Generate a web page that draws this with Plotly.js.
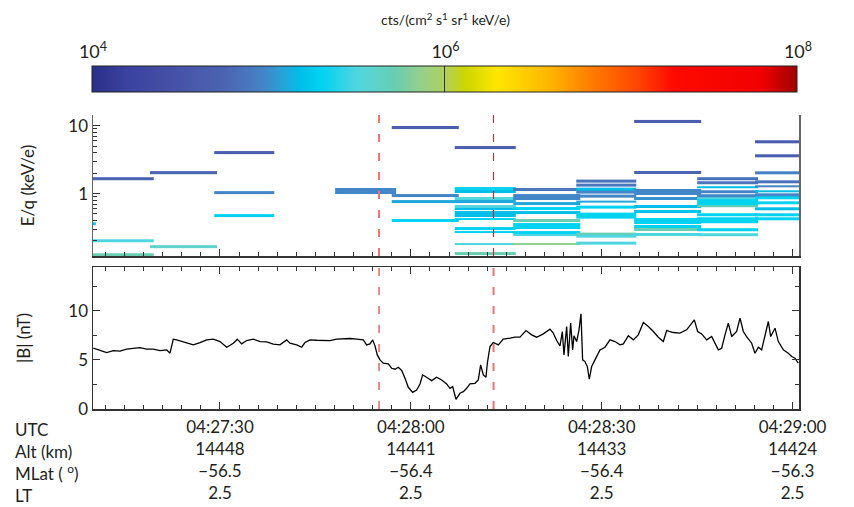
<!DOCTYPE html>
<html>
<head>
<meta charset="utf-8">
<script src="https://cdn.plot.ly/plotly-3.0.1.min.js"></script>
<style>html,body{margin:0;padding:0;background:#fff;}#chart{width:854px;height:507px;}</style>
</head>
<body>
<div id="chart"></div>
<script>
// ---------------- DATA ----------------
// Time is seconds after 04:27:00 UTC
// Spectrogram time bins (start, end) in seconds
var binStart = [0.9, 10.0, 19.0, 29.1, 48.1, 57.0, 66.9, 76.1, 86.0, 95.1, 105.0, 114.1];
var binEnd   = [10.45, 19.6, 29.5, 38.6, 57.7, 67.6, 76.5, 86.6, 95.5, 105.6, 114.6, 123.6];
// Energy (keV/e) of each channel with counts, per bin
var binEnergy = [
  [0.36],
  [1.66, 0.202, 0.127],
  [2.04, 0.165],
  [4.03, 1.03, 0.473],
  [1.15, 1.03],
  [9.44, 0.934, 0.762, 0.399],
  [4.78, 1.19, 1.06, 0.85, 0.76, 0.65, 0.59, 0.53, 0.47, 0.42, 0.305, 0.27, 0.18, 0.13],
  [1.15, 0.934, 0.853, 0.719, 0.60, 0.529, 0.398, 0.348, 0.318, 0.268, 0.245, 0.18],
  [1.53, 1.32, 1.15, 1.04, 0.92, 0.76, 0.64, 0.50, 0.45, 0.255, 0.235, 0.185],
  [11.6, 2.03, 1.12, 1.0, 0.84, 0.655, 0.545, 0.42, 0.37, 0.33, 0.295, 0.248],
  [1.66, 1.45, 1.24, 1.05, 0.92, 0.86, 0.78, 0.70, 0.65, 0.49, 0.43, 0.385, 0.29, 0.245],
  [5.82, 3.62, 2.04, 1.5, 1.28, 1.08, 0.97, 0.86, 0.73, 0.59, 0.49, 0.43]
];
// log10 of differential flux, cts/(cm2 s sr keV/e), per channel
var binLogFlux = [
  [5.3],
  [4.75, 5.5, 5.72],
  [4.75, 5.6],
  [4.65, 4.98, 5.3],
  [4.98, 4.98],
  [4.65, 4.98, 5.1, 5.3],
  [4.65, 5.3, 5.18, 5.5, 5.1, 5.5, 5.18, 5.18, 5.18, 5.3, 5.3, 5.3, 5.5, 5.72],
  [4.88, 4.98, 4.98, 5.1, 5.3, 5.18, 5.72, 5.3, 5.3, 5.3, 5.5, 5.85],
  [4.85, 4.88, 5.18, 4.98, 4.98, 5.1, 5.3, 5.3, 5.3, 5.72, 5.5, 5.5],
  [4.65, 4.75, 4.98, 4.98, 5.02, 5.18, 5.22, 5.3, 5.3, 5.3, 5.72, 5.5],
  [4.85, 4.88, 5.18, 4.98, 4.98, 5.5, 5.3, 5.3, 5.72, 5.3, 5.3, 5.3, 5.3, 5.5],
  [4.65, 4.65, 4.95, 4.85, 4.95, 5.18, 4.98, 5.3, 5.3, 5.18, 5.3, 5.3]
];

// Magnetic field magnitude
var bTime = [10.09,11.14,12.19,13.23,14.28,15.33,16.38,17.42,18.47,19.52,20.57,21.62,22.14,22.66,23.19,23.97,24.76,25.81,26.86,27.90,28.95,30.00,31.05,32.10,32.72,33.41,34.19,35.24,36.29,37.34,38.38,39.43,40.48,41.00,42.05,42.84,43.36,44.15,45.20,46.24,47.29,48.34,49.39,50.43,51.48,52.53,53.05,53.58,54.00,54.36,54.73,55.15,55.67,56.46,56.98,57.51,58.03,58.56,59.08,59.60,60.28,60.91,61.44,61.85,62.48,63.27,64.05,64.84,65.63,66.15,66.57,67.09,67.72,68.25,68.77,69.29,70.08,70.60,70.97,71.39,71.81,72.02,72.44,72.96,73.75,74.53,75.58,76.37,77.15,78.10,78.99,79.77,80.82,81.87,82.39,82.92,83.44,83.81,84.07,84.49,84.75,85.12,85.43,85.64,86.06,86.43,86.74,87.00,87.37,87.74,88.05,88.42,88.94,89.73,90.51,91.30,92.09,92.87,93.40,94.18,94.97,95.75,96.54,97.33,98.11,98.90,99.68,100.21,101.26,102.30,103.35,104.14,104.56,105.08,105.71,106.50,107.28,108.33,108.85,109.38,109.90,110.43,111.21,111.74,112.26,112.78,113.57,114.09,114.62,115.14,115.67,116.19,116.56,117.24,117.76,118.55,119.33,119.86,120.38,120.90];
var bMag = [6.19,5.95,5.75,5.95,5.90,6.09,6.15,6.25,6.09,6.09,5.95,6.02,5.68,7.11,7.04,6.87,6.77,6.53,6.77,7.04,7.11,6.87,6.29,6.70,7.11,6.63,6.97,7.11,6.87,6.84,6.60,6.53,7.04,6.70,6.53,6.29,6.77,7.04,7.00,6.97,6.97,7.11,7.14,7.18,7.11,7.04,6.53,6.63,7.04,6.43,5.51,5.00,4.66,4.59,4.15,4.05,4.25,3.92,3.13,2.21,1.70,1.94,2.55,3.47,3.23,2.89,3.23,2.96,2.55,2.11,2.28,0.99,1.60,1.77,2.11,2.55,2.62,2.96,4.49,3.47,3.23,4.66,6.36,6.77,6.53,7.11,7.21,7.31,7.31,7.99,7.55,7.31,7.65,8.13,7.72,6.97,6.43,7.89,5.51,8.40,5.34,8.74,6.02,7.45,6.87,8.06,9.70,5.00,4.83,4.32,3.03,4.32,5.00,6.02,6.29,7.04,6.87,6.53,6.63,7.45,7.04,7.55,8.81,8.40,7.89,7.31,6.87,7.99,7.79,7.72,8.06,8.74,9.08,7.89,7.65,7.04,7.38,6.02,6.19,7.55,8.74,7.38,7.89,9.25,7.89,7.38,6.70,5.68,6.29,6.02,7.38,8.91,7.38,8.23,6.87,6.02,5.68,5.34,5.17,4.66];

// Boundary times (dashed lines)
var boundaryTimes = [55.0, 73.0];

// Bottom annotation table
var tickTimes = [30, 60, 90, 120];
var utcLabels = ['04:27:30', '04:28:00', '04:28:30', '04:29:00'];
var altLabels = ['14448', '14441', '14433', '14424'];
var mlatLabels = ['\u221256.5', '\u221256.4', '\u221256.4', '\u221256.3'];
var ltLabels = ['2.5', '2.5', '2.5', '2.5'];
var rowNames = ['UTC', 'Alt (km)', 'MLat ( <sup>o</sup>)', 'LT'];

var cbTickVals = [4, 6, 8];
var cbTickText = ['10<sup>4</sup>', '10<sup>6</sup>', '10<sup>8</sup>'];

// ---------------- BUILD ----------------
var FONT = 'Lato, "Open Sans", "DejaVu Sans", sans-serif';
var TXT = '#231f20';
var halfThick = 0.021; // half bar thickness in decades

var colorscale = [
  [0.0, '#2a3088'], [0.05, '#3a42a0'], [0.1125, '#4550a6'], [0.15, '#4a5aac'],
  [0.1875, '#4a64b2'], [0.22, '#4a76be'], [0.245, '#4286c8'], [0.275, '#20a8dc'],
  [0.295, '#00bee8'], [0.325, '#00d2f2'], [0.375, '#4ed6e0'], [0.40, '#5cd4cc'],
  [0.43, '#68ceb0'], [0.4625, '#90d090'], [0.50, '#b0d060'], [0.53, '#ccd600'],
  [0.575, '#ffe600'], [0.65, '#ffb400'], [0.7125, '#ff7800'], [0.775, '#ff4400'],
  [0.825, '#ff0a00'], [0.95, '#f00000'], [1.0, '#a00000']
];

var traces = [];
for (var i = 0; i < binStart.length; i++) {
  var ch = binEnergy[i].map(function (e, k) { return {e: e, f: binLogFlux[i][k]}; });
  ch.sort(function (a, b) { return a.e - b.e; });
  var edges = [], z = [], prevHi = null, prevE = null;
  var fac = Math.pow(10, halfThick);
  ch.forEach(function (c) {
    var lo = c.e / fac, hi = c.e * fac;
    if (prevHi === null) { edges.push(lo); }
    else if (lo > prevHi) { z.push([null]); edges.push(lo); }
    else { edges[edges.length - 1] = Math.sqrt(prevE * c.e); }
    z.push([c.f]); edges.push(hi); prevHi = hi; prevE = c.e;
  });
  traces.push({
    type: 'heatmap', x: [binStart[i], binEnd[i]], y: edges, z: z,
    coloraxis: 'coloraxis', xaxis: 'x', yaxis: 'y', hoverinfo: 'skip', zsmooth: false
  });
}
traces.push({
  type: 'scatter', mode: 'lines', x: bTime, y: bMag, xaxis: 'x2', yaxis: 'y2',
  line: {color: '#000', width: 1.3}, hoverinfo: 'skip'
});
// carrier for the colour-bar label axis (draws nothing)
traces.push({
  type: 'scatter', mode: 'none', x: [cbTickVals[0], cbTickVals[cbTickVals.length - 1]], y: [0.5, 0.5],
  xaxis: 'x3', yaxis: 'y3', hoverinfo: 'skip'
});

var tickText = tickTimes.map(function (t, k) {
  return utcLabels[k] + '<br>' + altLabels[k] + '<br>' + mlatLabels[k] + '<br>' + ltLabels[k];
});

function py(px) { return (409 - px) / 343; }
var xr = [10.04, 121.01];
var axLine = '#333';

var shapes = [];
var dashStyles = [
  {ref: 'y domain', xref: 'x', color: '#f27272', width: 2},
  {ref: 'y domain', xref: 'x', color: '#e01818', width: 1},
  {ref: 'y2 domain', xref: 'x2', color: '#e01818', width: 1},
  {ref: 'y2 domain', xref: 'x2', color: '#f27272', width: 2}
];
dashStyles.forEach(function (s, k) {
  var t = boundaryTimes[k % 2];
  shapes.push({type: 'line', xref: s.xref, yref: s.ref, x0: t, x1: t, y0: 0, y1: 1,
    line: {color: s.color, width: s.width, dash: '8px,11px'}, layer: 'above'});
});

var layout = {
  width: 854, height: 507,
  margin: {l: 93, r: 55, t: 66, b: 98},
  paper_bgcolor: '#fff', plot_bgcolor: '#fff',
  font: {family: FONT, size: 17, color: TXT},
  showlegend: false,
  coloraxis: {
    cmin: 4, cmax: 8, colorscale: colorscale,
    colorbar: {
      orientation: 'h', x: 0.4984, xanchor: 'center', len: 0.9986, lenmode: 'fraction',
      y: 1, yanchor: 'top', yref: 'paper', thickness: 26, xpad: 0, ypad: 0,
      outlinewidth: 1, outlinecolor: '#222', showticklabels: false,
      tickmode: 'array', tickvals: [6], ticks: 'inside', ticklen: 26, tickcolor: '#333', tickwidth: 1
    }
  },
  xaxis: {
    domain: [0, 1], anchor: 'y', range: xr, showline: true, linecolor: axLine, linewidth: 1.5,
    mirror: false, ticks: 'inside', tickmode: 'linear', tick0: 0, dtick: 30, ticklen: 7,
    tickcolor: axLine, showticklabels: false, showgrid: false, zeroline: false,
    minor: {ticks: 'inside', ticklen: 4, tickmode: 'linear', tick0: 0, dtick: 3, tickcolor: axLine, showgrid: false}
  },
  yaxis: {
    domain: [py(256), py(115)], anchor: 'x', type: 'log',
    range: [Math.log10(0.12), Math.log10(14.4)], showline: true, linecolor: '#666', linewidth: 1.5,
    mirror: true, ticks: 'inside', tickmode: 'array', tickvals: [1, 10], ticktext: ['1', '10'],
    ticklen: 7, tickcolor: axLine, showgrid: false, zeroline: false,
    minor: {ticks: 'inside', ticklen: 4, dtick: 'D1', tickcolor: axLine, showgrid: false},
    title: {text: 'E/q (keV/e)', font: {size: 17}, standoff: 29}
  },
  xaxis2: {
    domain: [0, 1], anchor: 'y2', range: xr, showline: true, linecolor: axLine, linewidth: 1.5,
    mirror: 'allticks', ticks: 'inside', tickmode: 'array', tickvals: tickTimes, ticktext: tickText,
    ticklen: 7, tickcolor: axLine, showgrid: false, zeroline: false, tickfont: {size: 17},
    ticklabelstandoff: 2,
    minor: {ticks: 'inside', ticklen: 4, tickmode: 'linear', tick0: 0, dtick: 3, tickcolor: axLine, showgrid: false}
  },
  yaxis2: {
    domain: [0, py(267)], anchor: 'x2', range: [0, 14.46], showline: true, linecolor: axLine,
    linewidth: 1.5, mirror: 'allticks', ticks: 'inside', tickmode: 'array', tickvals: [0, 5, 10],
    ticklen: 7, tickcolor: axLine, showgrid: false, zeroline: false,
    minor: {ticks: 'inside', ticklen: 4, tickmode: 'linear', tick0: 0, dtick: 2.5, tickcolor: axLine, showgrid: false},
    title: {text: '|B| (nT)', font: {size: 17}, standoff: 33}
  },
  xaxis3: {
    domain: [0, 0.9986], anchor: 'y3', side: 'top', range: [4, 8], showline: false, ticks: '',
    tickmode: 'array', tickvals: cbTickVals, ticktext: cbTickText, showgrid: false, zeroline: false,
    tickfont: {size: 18}, ticklabelstandoff: 3,
    title: {text: 'cts/(cm<sup>2</sup> s<sup>1</sup> sr<sup>1</sup> keV/e)', font: {size: 14}, standoff: 9}
  },
  yaxis3: {domain: [py(92), 1], anchor: 'x3', range: [0, 1], visible: false, fixedrange: true},
  shapes: shapes,
  annotations: [{
    xref: 'paper', yref: 'paper', x: (13 - 93) / 706, y: py(417), xanchor: 'left', yanchor: 'top',
    align: 'left', showarrow: false, text: rowNames.join('<br>'), font: {size: 17, color: TXT}
  }]
};

Plotly.newPlot('chart', traces, layout, {staticPlot: true, displayModeBar: false});
</script>
</body>
</html>
